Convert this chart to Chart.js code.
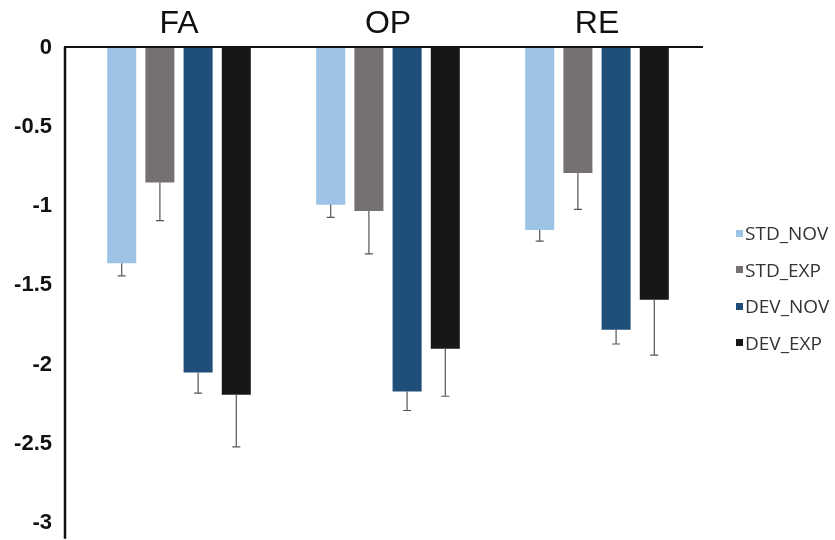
<!DOCTYPE html>
<html>
<head>
<meta charset="utf-8">
<script src="https://cdn.jsdelivr.net/npm/chart.js@4.4.0/dist/chart.umd.min.js"></script>
<style>
  body { margin: 0; background: #fff; }
  #wrap { position: relative; width: 835px; height: 540px; }
  #legend { position: absolute; left: 736px; top: 215px; font-family: "Open Sans", sans-serif; font-size: 19px; color: #333; }
  #legend div { height: 36.5px; display: flex; align-items: center; }
  #legend span.box { width: 7px; height: 7px; margin-right: 2px; display: inline-block; }
</style>
</head>
<body>
<div id="wrap">
  <canvas id="myChart" width="835" height="540"></canvas>
  <div id="legend"></div>
</div>
<script>
const categories = ['FA', 'OP', 'RE'];
const seriesNames = ['STD_NOV', 'STD_EXP', 'DEV_NOV', 'DEV_EXP'];
const seriesColors = ['#9DC3E6', '#767171', '#1F4E79', '#171717'];

const stdNov = [-1.36, -0.99, -1.15];
const stdExp = [-0.85, -1.03, -0.79];
const devNov = [-2.05, -2.17, -1.78];
const devExp = [-2.19, -1.90, -1.59];

const stdNovErr = [0.08, 0.08, 0.07];
const stdExpErr = [0.24, 0.27, 0.23];
const devNovErr = [0.13, 0.12, 0.09];
const devExpErr = [0.33, 0.30, 0.35];

const yTicks = [0, -0.5, -1, -1.5, -2, -2.5, -3];

const values = [stdNov, stdExp, devNov, devExp];
const errors = [stdNovErr, stdExpErr, devNovErr, devExpErr];

// error bars hang below each bar
const errorBars = {
    id: 'errorBars',
    afterDatasetsDraw(chart) {
        const ctx = chart.ctx;
        const y = chart.scales.y;
        ctx.save();
        ctx.strokeStyle = '#555';
        ctx.lineWidth = 1.2;
        chart.data.datasets.forEach((ds, i) => {
            chart.getDatasetMeta(i).data.forEach((bar, j) => {
                const v = ds.data[j];
                const e = ds.errors[j];
                const y0 = y.getPixelForValue(v);
                const y1 = y.getPixelForValue(v - e);
                ctx.beginPath();
                ctx.moveTo(bar.x, y0);
                ctx.lineTo(bar.x, y1);
                ctx.moveTo(bar.x - 4, y1);
                ctx.lineTo(bar.x + 4, y1);
                ctx.stroke();
            });
        });
        ctx.restore();
    }
};

// axis lines: the vertical one sits a bit left of the plot area
const axisLines = {
    id: 'axisLines',
    afterDraw(chart) {
        const ctx = chart.ctx;
        const a = chart.chartArea;
        const x0 = a.left - 9.5;
        ctx.save();
        ctx.strokeStyle = '#111';
        ctx.lineWidth = 2.5;
        ctx.beginPath();
        ctx.moveTo(x0, a.top - 1);
        ctx.lineTo(x0, a.bottom);
        ctx.stroke();
        ctx.lineWidth = 2;
        ctx.beginPath();
        ctx.moveTo(x0 - 1, a.top - 1);
        ctx.lineTo(a.right + 1.5, a.top - 1);
        ctx.stroke();
        ctx.restore();
    }
};

const data = {
    labels: categories,
    datasets: seriesNames.map((name, i) => ({
        label: name,
        data: values[i],
        errors: errors[i],
        backgroundColor: seriesColors[i],
        borderWidth: 0,
        categoryPercentage: 0.731,
        barPercentage: 0.76
    }))
};

const config = {
    type: 'bar',
    data,
    options: {
        responsive: false,
        animation: false,
        layout: { padding: { left: 0, right: 133.5, top: 0, bottom: 1.3 } },
        plugins: {
            legend: { display: false },
            tooltip: { enabled: false }
        },
        scales: {
            x: {
                position: 'top',
                grid: { display: false, drawTicks: false },
                border: { display: false },
                ticks: {
                    padding: 5,
                    color: '#111',
                    font: { family: '"Liberation Sans", Arial, sans-serif', size: 32 }
                },
                afterFit(scale) { scale.height = 48; }
            },
            y: {
                min: -3.1,
                max: 0,
                grid: { display: false, drawTicks: false },
                border: { display: false },
                ticks: {
                    padding: 22.5,
                    color: '#111',
                    font: { family: '"Liberation Sans", Arial, sans-serif', size: 22, weight: 'bold' },
                    callback: v => String(v)
                },
                afterBuildTicks(scale) { scale.ticks = yTicks.map(v => ({ value: v })); },
                afterFit(scale) {
                    scale.width = 74.5;
                    // tick padding would otherwise push the plot bottom up
                    scale.paddingTop = 0;
                    scale.paddingBottom = 0;
                }
            }
        }
    },
    plugins: [errorBars, axisLines]
};

const myChart = new Chart(document.getElementById('myChart'), config);

const legendBox = document.getElementById('legend');
myChart.data.datasets.forEach(ds => {
    const row = document.createElement('div');
    const box = document.createElement('span');
    box.className = 'box';
    box.style.background = ds.backgroundColor;
    row.appendChild(box);
    row.appendChild(document.createTextNode(ds.label));
    legendBox.appendChild(row);
});
</script>
</body>
</html>
